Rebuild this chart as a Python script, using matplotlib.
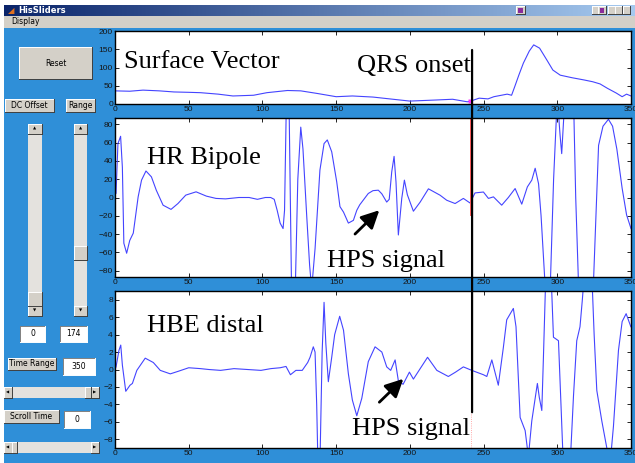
import numpy as np
import matplotlib.pyplot as plt
from matplotlib.patches import Rectangle, ConnectionPatch
from matplotlib.lines import Line2D

# Surface Vector trace (time, amplitude)
sv_t = [0, 10, 19, 30, 40, 50, 58, 70, 80, 94, 103, 110, 117, 126, 137, 150, 161, 175,
        184, 200, 218, 229, 239, 242, 247, 253, 257, 266, 269, 271, 274, 277, 281, 284,
        288, 293, 297, 302, 310, 318, 324, 329, 334, 340, 344, 347, 350]
sv_v = [36, 35, 38, 36, 33, 32, 31, 27, 22, 24, 31, 34, 37, 36, 29, 20, 22, 19,
        15, 8, 11, 13, 6, 9, 16, 14, 20, 27, 24, 46, 80, 112, 145, 162,
        153, 120, 93, 79, 72, 66, 61, 55, 43, 30, 20, 27, 22]

# HR Bipole trace
hr_t = [0, 0.7, 2, 3.8, 5, 6, 7.9, 10, 12.4, 15.7, 18, 21, 24.7, 28, 32.6, 38, 42.7, 48,
        55, 62, 68.5, 75, 84, 91, 96.6, 102, 105.6, 108, 110, 112, 114, 115, 116.5, 118,
        120, 122, 124, 126, 127.5, 130, 132, 133.4, 135.7, 139, 141.8, 144, 147, 150.4,
        152.6, 155, 158.3, 161.7, 164, 166, 171.8, 175, 178.6, 181, 184.3, 186, 187.7,
        189.3, 190.6, 192.2, 194.5, 196.3, 198.3, 202.4, 207, 212.6, 220.5, 225, 230.7,
        236.3, 240.8, 244.2, 249.9, 253.3, 256.7, 262.3, 266.8, 271.4, 275.9, 279.7,
        282.7, 285, 287.3, 289, 291.7, 293, 295, 297.5, 300, 301.9, 303, 305, 307, 309,
        311, 312.5, 314.4, 318, 322, 324.5, 328, 331, 334.7, 337.5, 340.4, 344, 347, 350]
hr_v = [4, 4.4, 59, 67, 33, -50, -61, -47, -39, 0.7, 19, 29, 22.6, 8, -8.4, -13, -6.6, 2.6,
        6.2, 1.5, -1, -1.5, 0, 0, -2, 0, 0, -2, -14, -28, -34, -14, 130, 110,
        -130, -120, 20, 77, 53, -19, -74, -100, -56, 30, 59, 63, 50, 17,
        -10, -16, -28, -25, -14, -8, 4.4, 7.5, 8, 4, -5, -2, 28,
        45, 17, -41, -1, 19, 3, -15, -5, 9.5, 2.5, -3, -6.6,
        -1, -6, 5, 6, -1, 0.7, -8.4, 0, 9.8, -7.3, 11.6,
        19, 32, 15, -20, -95, -140, -110, 20, 110, 68, 48, 105, 130, 140,
        110, 0, -95, -140, -130, -95, 57, 78, 85.6, 78, 53, 10, -19, -34]

# HBE distal trace
hbe_t = [0, 0.7, 2.7, 3.9, 5, 7.3, 10.2, 11.8, 14.8, 20.5, 26, 30.7, 37.5, 43, 50, 58, 63.6,
         71.6, 80.7, 89.8, 99, 105.7, 112, 116, 119, 122.7, 127, 130.7, 132.3, 134.5, 135.7,
         136.8, 137.8, 139, 140.5, 141.8, 143, 144.7, 147, 149, 152.4, 155, 158.3, 161, 164,
         167.4, 171.8, 176.4, 181, 184.3, 187, 190, 192.2, 195.4, 199.7, 202.4, 207, 212,
         218.3, 226.1, 231, 236.3, 242, 249.9, 252.2, 255.6, 260, 263.4, 265.7, 270.2, 272,
         274.8, 278.2, 280.4, 282.7, 286.5, 287.8, 289.5, 290.6, 292.4, 294, 296, 297.4,
         300.8, 302.5, 304.1, 306.5, 308.7, 311, 313.2, 315.4, 317, 318.8, 321, 323.4, 325,
         326.8, 330.2, 332.5, 334.7, 336, 338.1, 341.5, 344, 346.7, 349.9]
hbe_v = [0, 0.3, 2.2, 2.8, 0.5, -2.5, -1.8, -1.6, -0.1, 1.3, 0.8, -0.1, -0.5, -0.2, 0.2, 0.1, 0,
         -0.1, 0.1, 0, -0.1, 0.1, 0.2, 0.35, -0.6, -0.1, -0.1, 0.8, 1.4, 2.6, 2,
         -4, -12, -11, 2, 7.7, 3, -1.4, 1.4, 4, 6.1, 4.5, -0.5, -3.5, -5.3,
         -3.3, 0.9, 2.6, 2, 0.3, -0.1, 1.1, -1.3, -1.7, -0.3, -1.1, 0.1, 1.4,
         -0.1, -0.8, -0.3, 0.3, -0.1, -0.6, -0.8, 1.1, -1.8, 2.5, 5.7, 7, 4.9,
         -5.5, -7, -10, -5.9, -1.6, -3.2, -4.7, 1.4, 12, 14, 10, 3.7,
         3.3, -4, -11, -13, -11, -3, 3.3, 4.9, 8, 12, 14, 11, 4,
         -2.4, -5.9, -8, -10, -10.5, -6.5, 2.2, 5.5, 6.4, 4.9]

qrs_onset = 242.2
xticks = [0, 50, 100, 150, 200, 250, 300, 350]
sv_yticks = [0, 50, 100, 150, 200]
hr_yticks = [-80, -60, -40, -20, 0, 20, 40, 60, 80]
hbe_yticks = [-8, -6, -4, -2, 0, 2, 4, 6, 8]

W, H = 635, 463
blue = '#2f8fd8'
gray = '#d4d0c8'
trace = '#4444ff'
serif = 'Liberation Serif'

fig = plt.figure(figsize=(W / 100, H / 100), dpi=100)
fig.patch.set_facecolor('white')


def fx(x):
    return x / W


def fy(y):
    return 1 - y / H


def box(x0, y0, x1, y1, fc, z=1):
    fig.add_artist(Rectangle((fx(x0), fy(y1)), (x1 - x0) / W, (y1 - y0) / H,
                             transform=fig.transFigure, fc=fc, ec='none', lw=0, zorder=z))


def edge(x0, y0, x1, y1, c, lw=0.7):
    fig.add_artist(Line2D([fx(x0), fx(x1)], [fy(y0), fy(y1)], transform=fig.transFigure,
                          color=c, lw=lw, zorder=2))


def bevel(x0, y0, x1, y1, fc=gray, sunken=False):
    box(x0, y0, x1, y1, fc)
    hi, lo = ('#808080', 'white') if sunken else ('white', '#404040')
    edge(x0, y0, x1, y0, hi)
    edge(x0, y0, x0, y1, hi)
    edge(x0, y1, x1, y1, lo)
    edge(x1, y0, x1, y1, lo)


def label(x, y, s, size=5.5, color='black', **kw):
    fig.text(fx(x), fy(y), s, fontsize=size, color=color, ha='center', va='center',
             zorder=3, **kw)


# window background, title bar and menu
box(4, 28, W, H, blue, z=-5)
box(4, 16, W, 28, gray, z=1)
label(25, 22, 'Display', size=5.5)
tb = fig.add_axes([fx(4), fy(16), (W - 4) / W, 11 / H])
grad = np.linspace(0, 1, 256)[None, :]
c0, c1 = np.array([10, 36, 106]) / 255, np.array([166, 202, 240]) / 255
tb.imshow(c0 + grad[..., None] * (c1 - c0), aspect='auto', extent=[0, 1, 0, 1])
tb.set_axis_off()
tb.text(0.006, 0.5, '◢', color='#e07020', fontsize=6, va='center')
tb.text(0.022, 0.5, 'HisSliders', color='white', fontsize=6, weight='bold', va='center')
for x0, x1 in [(516, 525), (592, 598), (598, 606), (608, 615), (615, 622), (623, 630)]:
    bevel(x0, 6, x1, 14)
box(518, 7.5, 523, 12.5, '#8a2a9a', z=3)
box(600, 7.5, 604, 12.5, '#8a2a9a', z=3)

# left panel controls
bevel(19, 47, 92, 79)
label(55.5, 63, 'Reset')
bevel(5, 99, 54, 112)
label(29.5, 105.5, 'DC Offset')
bevel(66, 99, 95, 112)
label(80.5, 105.5, 'Range')
for x0, x1, t0, t1 in [(28, 42, 292, 306), (74, 87, 246, 260)]:
    box(x0, 124, x1, 316, '#e4e2de')
    bevel(x0, 124, x1, 134)
    label((x0 + x1) / 2, 129, '▲', size=3)
    bevel(x0, 306, x1, 316)
    label((x0 + x1) / 2, 311, '▼', size=3)
    bevel(x0, t0, x1, t1)
bevel(20, 326, 45, 342, fc='white', sunken=True)
label(32.5, 334, '0')
bevel(60, 326, 87, 342, fc='white', sunken=True)
label(73.5, 334, '174')
bevel(8, 358, 56, 370)
label(32, 364, 'Time Range')
bevel(63, 358, 95, 375, fc='white', sunken=True)
label(79, 366.5, '350')
bevel(4, 410, 59, 423)
label(31.5, 416.5, 'Scroll Time')
bevel(64, 411, 90, 428, fc='white', sunken=True)
label(77, 419.5, '0')
for y0, y1, t0, t1 in [(387, 398, 85, 91), (442, 453, 12, 17)]:
    box(4, y0, 99, y1, '#e4e2de')
    bevel(4, y0, 12, y1)
    label(8, (y0 + y1) / 2, '◀', size=3)
    bevel(91, y0, 99, y1)
    label(95, (y0 + y1) / 2, '▶', size=3)
    bevel(t0, y0, t1, y1)

# the three signal axes
ax_sv = fig.add_axes([fx(115), fy(104), 516 / W, 73 / H])
ax_hr = fig.add_axes([fx(115), fy(277), 516 / W, 159 / H])
ax_hbe = fig.add_axes([fx(115), fy(448), 516 / W, 157 / H])

for ax, t, v, yl, yt in [(ax_sv, sv_t, sv_v, (0, 200), sv_yticks),
                         (ax_hr, hr_t, hr_v, (-87, 87), hr_yticks),
                         (ax_hbe, hbe_t, hbe_v, (-9, 9), hbe_yticks)]:
    ax.plot(t, v, color=trace, lw=0.8)
    ax.set_xlim(0, 350)
    ax.set_ylim(*yl)
    ax.set_xticks(xticks)
    ax.set_yticks(yt)
    ax.tick_params(direction='in', top=True, right=True, length=3, width=0.6,
                   labelsize=6, pad=1.5, labelcolor='#151515')
    for s in ax.spines.values():
        s.set_linewidth(1.0)
        s.set_color('black')
    for lab in ax.get_xticklabels() + ax.get_yticklabels():
        lab.set_fontfamily('Liberation Sans')

# QRS onset markers
ax_sv.plot(qrs_onset - 1.5, 7, 's', color='#ff30ff', ms=2.5, mec='none')
ax_hr.plot([qrs_onset - 0.8, qrs_onset - 0.8], [87, -19.5], color='#ff5a5a', lw=1.4)
ax_hbe.axvline(qrs_onset - 0.8, color='#ff9090', ls=':', lw=0.6)
con = ConnectionPatch(xyA=(qrs_onset, 148), coordsA=ax_sv.transData,
                      xyB=(qrs_onset, -4.9), coordsB=ax_hbe.transData,
                      color='black', lw=1.6)
fig.add_artist(con)

# annotations
ax_sv.text(6, 97.8, 'Surface Vector', family=serif, fontsize=19, va='baseline')
ax_sv.text(164, 88.5, 'QRS onset', family=serif, fontsize=19, va='baseline')
ax_hr.text(22, 37, 'HR Bipole', family=serif, fontsize=19, va='baseline')
ax_hr.text(144, -75.8, 'HPS signal', family=serif, fontsize=19, va='baseline')
ax_hbe.text(22, 4.3, 'HBE distal', family=serif, fontsize=19, va='baseline')
ax_hbe.text(160.6, -7.5, 'HPS signal', family=serif, fontsize=19, va='baseline')

arrow = dict(arrowstyle='-|>', color='black', lw=2, mutation_scale=27, shrinkA=0, shrinkB=0)
ax_hr.annotate('', xy=(179.3, -13.9), xytext=(162.8, -40), arrowprops=arrow)
ax_hbe.annotate('', xy=(195.6, -1.07), xytext=(179.3, -3.75), arrowprops=arrow)

fig.savefig('out.png', dpi=100)
